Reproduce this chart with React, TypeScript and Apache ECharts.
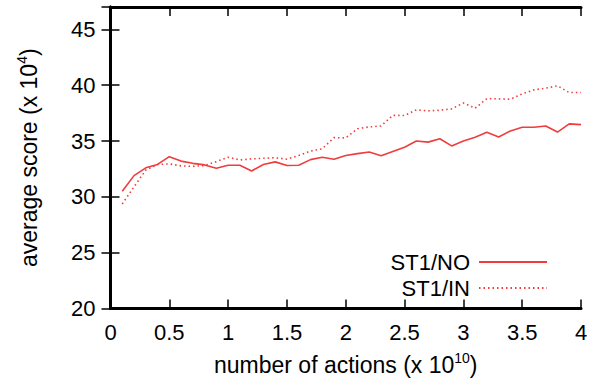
import React, { useEffect, useRef } from "react";
import * as echarts from "echarts";

const xValues = [0.1,0.2,0.3,0.4,0.5,0.6,0.7,0.8,0.9,1.0,1.1,1.2,1.3,1.4,1.5,1.6,1.7,1.8,1.9,2.0,2.1,2.2,2.3,2.4,2.5,2.6,2.7,2.8,2.9,3.0,3.1,3.2,3.3,3.4,3.5,3.6,3.7,3.8,3.9,4.0];
const st1NO = [30.5,31.9,32.6,32.9,33.6,33.2,33.0,32.86,32.56,32.83,32.83,32.32,32.9,33.13,32.8,32.83,33.33,33.55,33.37,33.7,33.87,34.02,33.67,34.06,34.44,35.0,34.9,35.2,34.56,35.0,35.33,35.78,35.36,35.9,36.23,36.23,36.35,35.8,36.53,36.47];
const st1IN = [29.36,30.9,32.4,32.9,32.95,32.77,32.73,32.8,33.15,33.55,33.3,33.4,33.45,33.5,33.37,33.7,34.1,34.3,35.3,35.28,36.1,36.26,36.35,37.3,37.28,37.79,37.7,37.75,37.88,38.4,37.94,38.8,38.77,38.74,39.22,39.58,39.73,39.94,39.34,39.34];
const seriesNames = ["ST1/NO", "ST1/IN"];

const FONT = "'Liberation Sans', Arial, sans-serif";
const RED = "#f03c3c";
const FS = 22;

export default function App() {
  const ref = useRef<HTMLDivElement>(null);
  useEffect(() => {
    const chart = echarts.init(ref.current!, null, { renderer: "svg" });
    const axisLine = { show: true, lineStyle: { color: "#000", width: 3 } };
    const tick = { show: true, inside: true, length: 9, lineStyle: { color: "#000", width: 1.5 } };
    const rich = {
      a: { fontSize: 23, fontFamily: FONT, color: "#000", lineHeight: 28 },
      sup: { fontSize: 14, fontFamily: FONT, color: "#000", lineHeight: 28, verticalAlign: "top" as const, padding: [0, 0, 13, 0] },
    };
    chart.setOption({
      animation: false,
      grid: { left: 110.5, right: 10, top: 7, bottom: 80.5, containLabel: false },
      legend: {
        right: 38,
        top: 246,
        orient: "vertical",
        align: "right",
        itemWidth: 68,
        itemHeight: 14,
        itemGap: 4,
        itemStyle: { opacity: 0 },
        textStyle: { fontSize: FS, fontFamily: FONT, color: "#000", lineHeight: 20, padding: [0, 4, 0, 0] },
        data: seriesNames,
      },
      xAxis: [
        {
          type: "value", min: 0, max: 4, interval: 0.5,
          axisLine, axisTick: tick, splitLine: { show: false },
          axisLabel: { fontSize: FS, fontFamily: FONT, color: "#000", margin: 13 },
          name: "{a|number of actions (x 10}{sup|10}{a|)}",
          nameLocation: "middle", nameGap: 42,
          nameTextStyle: { rich },
        },
        {
          type: "value", min: 0, max: 4, interval: 0.5, position: "top",
          axisLine, axisTick: tick, splitLine: { show: false }, axisLabel: { show: false },
        },
      ],
      yAxis: [
        {
          type: "value", min: 20, max: 47, interval: 5,
          axisLine, axisTick: tick, splitLine: { show: false },
          axisLabel: { fontSize: FS, fontFamily: FONT, color: "#000", margin: 15, showMaxLabel: false },
          name: "{a|average score (x 10}{sup|4}{a|)}",
          nameLocation: "middle", nameGap: 68, nameRotate: 90,
          nameTextStyle: { rich },
        },
        {
          type: "value", min: 20, max: 47, interval: 5, position: "right",
          axisLine, axisTick: tick, splitLine: { show: false }, axisLabel: { show: false },
        },
      ],
      series: [
        {
          name: seriesNames[0], type: "line", symbol: "none",
          data: xValues.map((x, i) => [x, st1NO[i]]),
          lineStyle: { color: RED, width: 1.6, type: "solid" },
          itemStyle: { color: RED },
        },
        {
          name: seriesNames[1], type: "line", symbol: "none",
          data: xValues.map((x, i) => [x, st1IN[i]]),
          lineStyle: { color: RED, width: 1.6, type: [1.5, 3] },
          itemStyle: { color: RED },
        },
      ],
    });
    return () => chart.dispose();
  }, []);
  return <div ref={ref} style={{ width: 591, height: 389, position: "absolute", left: 0, top: 0 }} />;
}
